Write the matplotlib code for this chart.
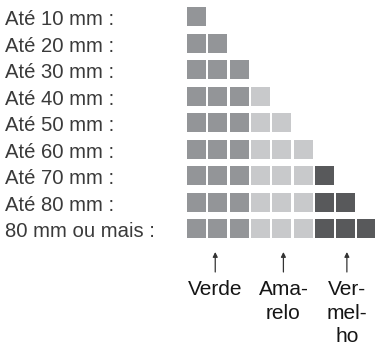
import matplotlib
matplotlib.use("Agg")
import matplotlib.pyplot as plt

# Rainfall categories and how many squares of each colour band they get
categories = ["Até 10 mm :", "Até 20 mm :", "Até 30 mm :", "Até 40 mm :",
              "Até 50 mm :", "Até 60 mm :", "Até 70 mm :", "Até 80 mm :",
              "80 mm ou mais :"]
verde = [1, 2, 3, 3, 3, 3, 3, 3, 3]
amarelo = [0, 0, 0, 1, 2, 3, 3, 3, 3]
vermelho = [0, 0, 0, 0, 0, 0, 1, 2, 3]

band_labels = [["Verde"], ["Ama-", "relo"], ["Ver-", "mel-", "ho"]]
band_colors = ["#939598", "#c8c9cb", "#58595b"]

W, H = 375, 347
fig = plt.figure(figsize=(W / 100, H / 100), dpi=100)
ax = fig.add_axes([0, 0, 1, 1])

# one data unit = one cell of the grid
col_px, row_px = 21.3, 26.5
x0_px, y0_px = 196.5, 16.5
ax.set_xlim(-x0_px / col_px, (W - x0_px) / col_px)
ax.set_ylim((H - y0_px) / row_px, -y0_px / row_px)
ax.axis("off")


def row_of(px):
    return (px - y0_px) / row_px


sq_w = 19 / col_px
sq_h = 19 / row_px
font = ["Liberation Sans", "DejaVu Sans"]

for r, (lab, g, a, v) in enumerate(zip(categories, verde, amarelo, vermelho)):
    ax.text(-8.99, r + 0.12, lab, ha="left", va="center", fontsize=14.6,
            color="#3a3a3a", family=font)
    counts = [g, a, v]
    for b, n in enumerate(counts):
        xs = [b * 3 + k for k in range(n)]
        ax.bar(xs, [sq_h] * n, width=sq_w, bottom=[r - sq_h / 2] * n,
               color=band_colors[b], linewidth=0)

# arrows and band names under the middle column of each band
nudge = [-0.12, 0.08, 0.06]
baselines = [295, 319, 342]
for b, lines in enumerate(band_labels):
    cx = b * 3 + 1 + nudge[b]
    ax.annotate("", xy=(cx, row_of(252)), xytext=(cx, row_of(272)),
                arrowprops=dict(arrowstyle="-|>", color="#333333", lw=0.9,
                                mutation_scale=7, shrinkA=0, shrinkB=0))
    for k, line in enumerate(lines):
        ax.text(cx, row_of(baselines[k]), line, ha="center", va="baseline",
                fontsize=15, color="#151515", family=font, clip_on=False)

fig.savefig("out.png", dpi=100)
